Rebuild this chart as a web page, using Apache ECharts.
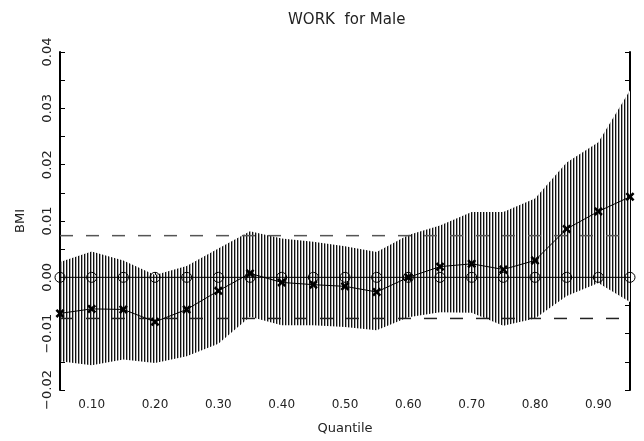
<!DOCTYPE html>
<html>
<head>
<meta charset="utf-8">
<script src="https://cdn.jsdelivr.net/npm/echarts@6/dist/echarts.min.js"></script>
<style>html,body{margin:0;padding:0;background:#fff;}#chart{width:644px;height:441px;}</style>
</head>
<body>
<div id="chart"></div>
<script>
var quantiles = [0.05,0.10,0.15,0.20,0.25,0.30,0.35,0.40,0.45,0.50,0.55,0.60,0.65,0.70,0.75,0.80,0.85,0.90,0.95];
var estimate = [-0.0064,-0.0056,-0.0057,-0.0079,-0.0057,-0.0024,0.0007,-0.0009,-0.0013,-0.0016,-0.0026,0.0000,0.0019,0.0024,0.0014,0.0030,0.0086,0.0117,0.0143];
var upper = [0.0027,0.0046,0.0030,0.0004,0.0020,0.0051,0.0082,0.0069,0.0063,0.0055,0.0045,0.0075,0.0092,0.0116,0.0116,0.0140,0.0204,0.0240,0.0332];
var lower = [-0.0149,-0.0156,-0.0146,-0.0152,-0.0140,-0.0118,-0.0070,-0.0085,-0.0085,-0.0088,-0.0094,-0.0071,-0.0062,-0.0063,-0.0086,-0.0073,-0.0033,-0.0010,-0.0044];
var zeroLine = [0,0,0,0,0,0,0,0,0,0,0,0,0,0,0,0,0,0,0];
var olsUpper = 0.0074;
var olsLower = -0.0073;
var titleText = 'WORK  for Male';
var xName = 'Quantile';
var yName = 'BMI';

var pc = document.createElement('canvas');
pc.width = 3; pc.height = 1;
var pctx = pc.getContext('2d');
pctx.fillStyle = '#fff'; pctx.fillRect(0,0,3,1);
pctx.fillStyle = '#111'; pctx.fillRect(0,0,1,1);
pctx.fillStyle = '#aaa'; pctx.fillRect(1,0,1,1);
var hatch = {image: pc, repeat: 'repeat'};

var font = 'DejaVu Sans';
var chart = echarts.init(document.getElementById('chart'), null, {renderer:'canvas'});
function fmtX(v){
  var k = Math.round(v*100);
  if (k % 10 !== 0 || k < 10 || k > 90) return '';
  return v.toFixed(2);
}
function fmtY(v){
  var k = Math.round(v*1000);
  if (k % 10 !== 0) return '';
  return v.toFixed(2).replace('-', '\u2212');
}
var axisLine = {show:true, lineStyle:{color:'#000', width:2}};
var tick = {show:true, inside:true, length:5, lineStyle:{color:'#000', width:1}};
chart.setOption({
  animation:false,
  backgroundColor:'#fff',
  title:{text:titleText, left:283, top:8, textStyle:{fontFamily:font, fontSize:15, fontWeight:'normal', color:'#222'}},
  grid:{left:60, right:14, top:52, bottom:51},
  xAxis:[
    {type:'value', min:0.05, max:0.95, interval:0.05, position:'bottom',
     name:xName, nameLocation:'middle', nameGap:32, nameTextStyle:{fontFamily:font, fontSize:13, color:'#222'},
     axisLine:axisLine, axisTick:tick, splitLine:{show:false},
     axisLabel:{formatter:fmtX, fontFamily:font, fontSize:12, color:'#222', margin:9, showMinLabel:true, showMaxLabel:true}},
    {type:'value', min:0.05, max:0.95, interval:0.05, position:'top',
     axisLine:axisLine, axisTick:tick, splitLine:{show:false}, axisLabel:{show:false}}
  ],
  yAxis:[
    {type:'value', min:-0.02, max:0.04, interval:0.005, position:'left',
     name:yName, nameLocation:'middle', nameGap:33, nameRotate:90, nameTextStyle:{fontFamily:font, fontSize:13, color:'#222'},
     axisLine:axisLine, axisTick:tick, splitLine:{show:false},
     axisLabel:{formatter:fmtY, rotate:90, fontFamily:font, fontSize:13, color:'#222', margin:6}},
    {type:'value', min:-0.02, max:0.04, interval:0.005, position:'right',
     axisLine:axisLine, axisTick:tick, splitLine:{show:false}, axisLabel:{show:false}}
  ],
  series:[
    {type:'custom', xAxisIndex:0, yAxisIndex:0, z:1,
     data: quantiles.map(function(q,i){return [q, lower[i], upper[i]];}),
     encode:{x:0, y:[1,2]},
     renderItem:function(params, api){
       if (params.dataIndex !== 0) return null;
       var pts = [];
       for (var i=0;i<quantiles.length;i++) pts.push(api.coord([quantiles[i], upper[i]]));
       for (var j=quantiles.length-1;j>=0;j--) pts.push(api.coord([quantiles[j], lower[j]]));
       return {type:'polygon', shape:{points:pts}, style:{fill:hatch, stroke:null}};
     }},
    {type:'line', data:[[quantiles[0], olsUpper],[quantiles[quantiles.length-1], olsUpper]], symbol:'none', z:3,
     lineStyle:{color:'#555', width:1.5, type:[13,13]}},
    {type:'line', data:[[quantiles[0], olsLower],[quantiles[quantiles.length-1], olsLower]], symbol:'none', z:3,
     lineStyle:{color:'#222', width:1.5, type:[13,13]}},
    {type:'line', data:quantiles.map(function(q,i){return [q, zeroLine[i]];}), z:4,
     symbol:'circle', symbolSize:10, lineStyle:{color:'#000', width:1},
     itemStyle:{color:'rgba(0,0,0,0)', borderColor:'#000', borderWidth:1}},
    {type:'line', data:quantiles.map(function(q,i){return [q, estimate[i]];}), z:5,
     symbol:'path://M0,2L2,0L5,3L8,0L10,2L7,5L10,8L8,10L5,7L2,10L0,8L3,5Z', symbolSize:9,
     lineStyle:{color:'#000', width:1}, itemStyle:{color:'#000'}}
  ]
});
</script>
</body>
</html>
